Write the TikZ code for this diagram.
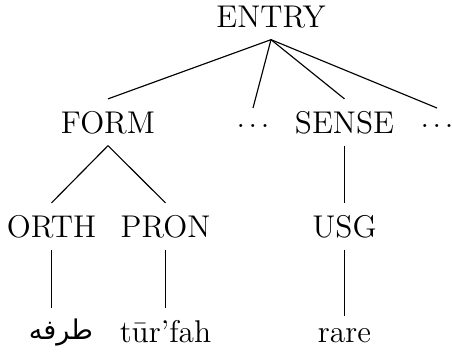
\documentclass[tikz,border=0pt]{standalone}
\usepackage{fontspec}
\newfontfamily\arabicfont[Script=Arabic]{DejaVu Sans}
\TeXXeTstate=1
\newcommand{\mydots}{.\kern1.25pt.\kern1.25pt.}
\begin{document}
\begin{tikzpicture}[x=0.35pt,y=-0.35pt,
  lbl/.style={anchor=base,inner sep=0pt,outer sep=4.2pt,font=\fontsize{11}{13}\selectfont},
  dotsn/.style={lbl,text height=2.45pt},
  edge/.style={line width=0.4pt}]
\useasboundingbox (0,0) rectangle (452,354);
\node[lbl] (entry) at (271,27) {ENTRY};
\node[lbl] (form) at (108,133) {FORM};
\node[dotsn] (dotsa) at (253,127) {\mydots};
\node[lbl] (sense) at (344.5,133) {SENSE};
\node[dotsn] (dotsb) at (437,127) {\mydots};
\node[lbl] (orth) at (51.5,237) {ORTH};
\node[lbl] (pron) at (165.5,237) {PRON};
\node[lbl] (usg) at (344.5,237) {USG};
\node[lbl,font=\fontsize{9.5}{11}\selectfont] (arab) at (61,339) {\arabicfont\beginR طرفه\endR};
\node[lbl] (pronv) at (165.5,342) {tūr’fah};
\node[lbl] (rare) at (344.5,342) {rare};
\draw[edge] (entry.south) -- (form.north);
\draw[edge] (entry.south) -- (dotsa.north);
\draw[edge] (entry.south) -- (sense.north);
\draw[edge] (entry.south) -- (dotsb.north);
\draw[edge] (form.south) -- (orth.north);
\draw[edge] (form.south) -- (pron.north);
\draw[edge] (sense.south) -- (usg.north);
\draw[edge] (orth.south) -- (orth.south |- pronv.north);
\draw[edge] (pron.south) -- (pronv.north);
\draw[edge] (usg.south) -- (rare.north);
\end{tikzpicture}
\end{document}
